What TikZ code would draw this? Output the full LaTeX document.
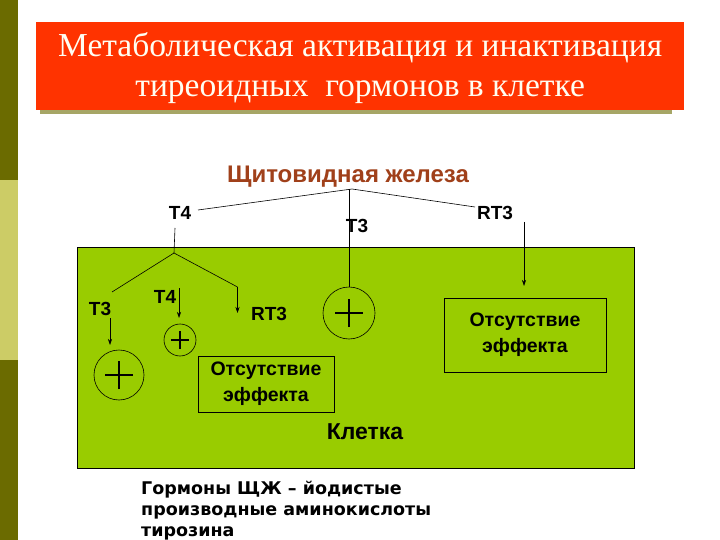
\documentclass[tikz,border=0pt]{standalone}
\usepackage{fontspec}
\setmainfont{Liberation Sans}
\newfontfamily\titlefont{Liberation Serif}
\newfontfamily\dejafont{DejaVu Sans}
\usetikzlibrary{arrows.meta}
\definecolor{olivedark}{HTML}{6B6B00}
\definecolor{olivelight}{HTML}{CCCC66}
\definecolor{titlered}{HTML}{FF3300}
\definecolor{cellgreen}{HTML}{99CC00}
\definecolor{brownlab}{HTML}{A0401A}
\begin{document}
\begin{tikzpicture}[x=1pt,y=-1pt,
  lab/.style={font=\fontsize{19}{20}\selectfont\bfseries, inner sep=0pt},
  arr/.style={-{Stealth[length=6pt,width=4pt]}, line width=0.6pt},
  ln/.style={line width=0.6pt},
  effbox/.style={draw, line width=0.6pt, align=center, font=\fontsize{19.5}{26}\selectfont\bfseries},
  pluscirc/.style={draw, circle, line width=0.6pt, inner sep=0pt}]
\useasboundingbox (0,0) rectangle (720,540);
\fill[white] (0,0) rectangle (720,540);
\fill[olivedark] (0,0) rectangle (18,180);
\fill[olivelight] (0,180) rectangle (18,360);
\fill[olivedark] (0,360) rectangle (18,540);
% title
\fill[olivedark!60] (40,110) rectangle (672,114);
\node[fill=titlered, minimum width=648pt, minimum height=88pt, anchor=north west, inner sep=0pt] (title) at (36,22) {};
\node[text=white!95!yellow, align=center, font=\titlefont\fontsize{33.5}{40}\selectfont] at ([yshift=-2pt]title.center) {Метаболическая активация и инактивация\\тиреоидных\ \ гормонов в клетке};
% gland
\node[lab, text=brownlab, font=\fontsize{24}{24}\selectfont\bfseries] (gland) at (348,177) {Щитовидная железа};
\coordinate (apex) at (352,189);
\node[lab] (t4o) at (180,213) {T4};
\node[lab] (t3o) at (357,226) {T3};
\node[lab] (rt3o) at (495,213) {RT3};
\draw[ln] (198,210) -- (apex) -- (475,207);
% cell
\fill[cellgreen] (77,247) rectangle (634,468);
\draw[ln] (77,247) rectangle (634,468);
\node[lab, font=\fontsize{23}{24}\selectfont\bfseries] (cell) at (365,432) {Клетка};
% T4 branch
\coordinate (br) at (174,253);
\draw[ln] (175,228) -- (br);
\draw[ln] (br) -- (112,292);
\node[lab] (t3i) at (100,309) {T3};
\node[pluscirc, minimum size=50pt] (c1) at (119,375) {};
\draw[arr] (110,318) -- (110,345);
\node[lab] (t4i) at (165,297) {T4};
\draw[arr] (179,288) -- (179,318);
\node[pluscirc, minimum size=32pt] (c2) at (180,340) {};
\draw[ln] (br) -- (237.5,287);
\draw[arr] (237.5,287) -- (237.5,313);
\node[lab] (rt3i) at (269,314) {RT3};
\node[effbox, minimum width=136pt, minimum height=56pt] (b1) at (266,384) {Отсутствие\\эффекта};
% T3 middle
\node[pluscirc, minimum size=52pt] (c3) at (349,313) {};
\draw[ln] (349,189) -- (c3.north);
% RT3 right
\node[effbox, minimum width=162pt, minimum height=74pt] (b2) at (525,335) {Отсутствие\\эффекта};
\draw[arr] (524,222) -- (524,286);
% plus signs
\foreach \c/\s in {c1/14, c2/9, c3/14} {
  \draw[line width=1.5pt] ([xshift=-\s pt]\c.center) -- ([xshift=\s pt]\c.center);
  \draw[line width=1.5pt] ([yshift=-\s pt]\c.center) -- ([yshift=\s pt]\c.center);
}
% bottom text
\node[anchor=north west, align=left, inner sep=0pt, font=\dejafont\bfseries\fontsize{17.5}{21}\selectfont] (note) at (141,481) {Гормоны ЩЖ – йодистые\\производные аминокислоты\\тирозина};
\end{tikzpicture}
\end{document}
